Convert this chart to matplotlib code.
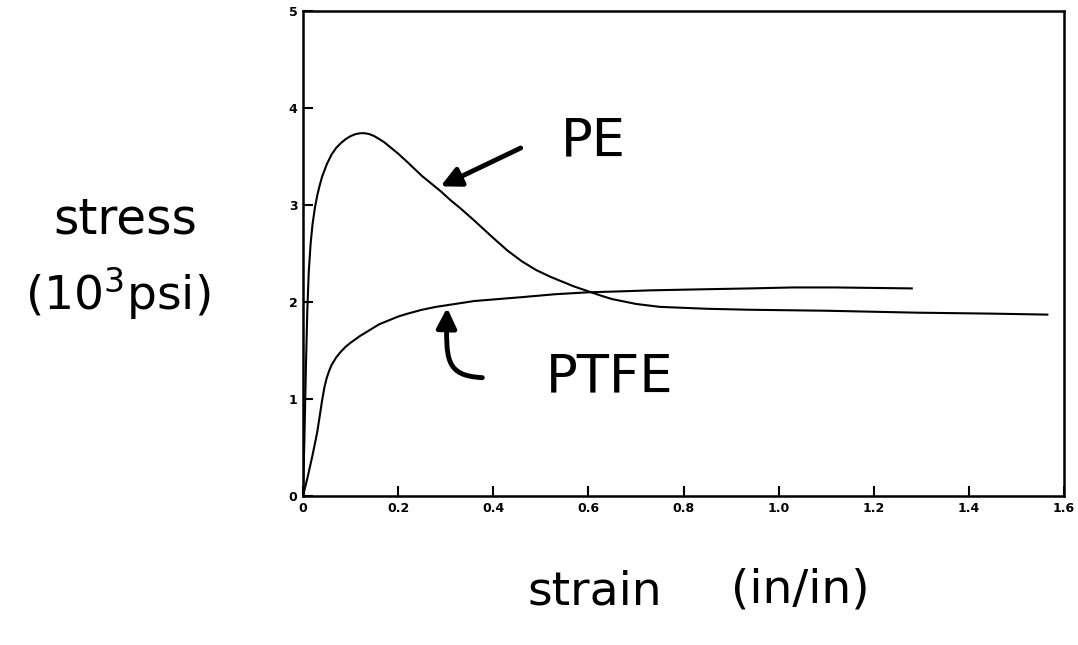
# Stress-strain curves for PE and PTFE, with hand-written style labels

import matplotlib
matplotlib.use('Agg')
import matplotlib.pyplot as plt
from matplotlib.patches import FancyArrowPatch
from matplotlib.path import Path

# - data (strain in/in, stress 10^3 psi)
pe_strain = [0.0, 0.003, 0.006, 0.009, 0.012, 0.016, 0.02, 0.025, 0.03, 0.035, 0.04,
             0.05, 0.06, 0.07, 0.08, 0.09, 0.10, 0.11, 0.12, 0.13, 0.14, 0.15, 0.16,
             0.17, 0.18, 0.20, 0.22, 0.25, 0.27, 0.29, 0.31, 0.33, 0.36, 0.38, 0.40,
             0.43, 0.46, 0.49, 0.52, 0.55, 0.57, 0.60, 0.63, 0.65, 0.68, 0.70, 0.75,
             0.85, 0.94, 1.10, 1.29, 1.45, 1.565]
pe_stress = [0.0, 0.6, 1.3, 1.9, 2.3, 2.6, 2.8, 2.97, 3.1, 3.2, 3.29,
             3.42, 3.52, 3.59, 3.64, 3.68, 3.71, 3.73, 3.74, 3.74, 3.73, 3.71, 3.68,
             3.65, 3.61, 3.53, 3.44, 3.3, 3.22, 3.14, 3.05, 2.97, 2.84, 2.75, 2.66,
             2.53, 2.42, 2.33, 2.26, 2.2, 2.16, 2.11, 2.06, 2.03, 2.0, 1.98, 1.95,
             1.93, 1.92, 1.91, 1.89, 1.88, 1.87]

ptfe_strain = [0.0, 0.01, 0.02, 0.03, 0.035, 0.04, 0.045, 0.05, 0.055, 0.06, 0.07,
               0.08, 0.09, 0.10, 0.12, 0.14, 0.16, 0.18, 0.20, 0.22, 0.25, 0.28,
               0.32, 0.36, 0.41, 0.46, 0.53, 0.60, 0.67, 0.73, 0.83, 0.94, 1.03,
               1.12, 1.20, 1.28]
ptfe_stress = [0.0, 0.2, 0.42, 0.66, 0.82, 0.98, 1.12, 1.22, 1.29, 1.35, 1.43,
               1.49, 1.54, 1.58, 1.65, 1.71, 1.77, 1.81, 1.85, 1.88, 1.92, 1.95,
               1.98, 2.01, 2.03, 2.05, 2.08, 2.10, 2.11, 2.12, 2.13, 2.14, 2.15,
               2.15, 2.145, 2.14]

x_ticks = [0, 0.2, 0.4, 0.6, 0.8, 1.0, 1.2, 1.4, 1.6]
x_tick_labels = ['0', '0.2', '0.4', '0.6', '0.8', '1.0', '1.2', '1.4', '1.6']
y_ticks = [0, 1, 2, 3, 4, 5]

# - figure
W, H = 1078, 645
fig = plt.figure(figsize=(W / 100, H / 100), dpi=100)
ax = fig.add_axes([303 / W, 1 - 496 / H, (1064 - 303) / W, (496 - 11) / H])

ax.plot(pe_strain, pe_stress, color='black', linewidth=1.5)
ax.plot(ptfe_strain, ptfe_stress, color='black', linewidth=1.5)

ax.set_xlim(0, 1.6)
ax.set_ylim(0, 5)
ax.set_xticks(x_ticks)
ax.set_xticklabels(x_tick_labels)
ax.set_yticks(y_ticks)
for s in ax.spines.values():
    s.set_linewidth(1.8)
ax.tick_params(direction='in', length=7, width=1.5, labelsize=9, pad=4)
for lab in ax.get_xticklabels() + ax.get_yticklabels():
    lab.set_fontweight('bold')

# - hand-written labels
hand = dict(family='DejaVu Sans', color='black', ha='center', va='center')
fig.text(125 / W, 1 - 220 / H, 'stress', fontsize=35, **hand)
fig.text(118 / W, 1 - 293 / H, '(10$^3$psi)', fontsize=34, **hand)
fig.text(595 / W, 1 - 592 / H, 'strain', fontsize=34, **hand)
fig.text(800 / W, 1 - 590 / H, '(in/in)', fontsize=34, **hand)

ax.text(0.61, 3.66, 'PE', fontsize=38, **hand)
ax.text(0.645, 1.22, 'PTFE', fontsize=38, **hand)

# - PE arrow
ax.annotate('', xy=(0.284, 3.18), xytext=(0.463, 3.6),
            arrowprops=dict(arrowstyle='-|>', color='black', lw=3.5,
                            mutation_scale=30))

# - PTFE hooked arrow
hook = Path([(0.377, 1.22), (0.30, 1.24), (0.30, 1.40), (0.303, 1.94)],
            [Path.MOVETO, Path.CURVE4, Path.CURVE4, Path.CURVE4])
ax.add_patch(FancyArrowPatch(path=hook, arrowstyle='-|>', color='black', lw=3.5,
                             mutation_scale=30))

fig.savefig('out.png', dpi=100)
